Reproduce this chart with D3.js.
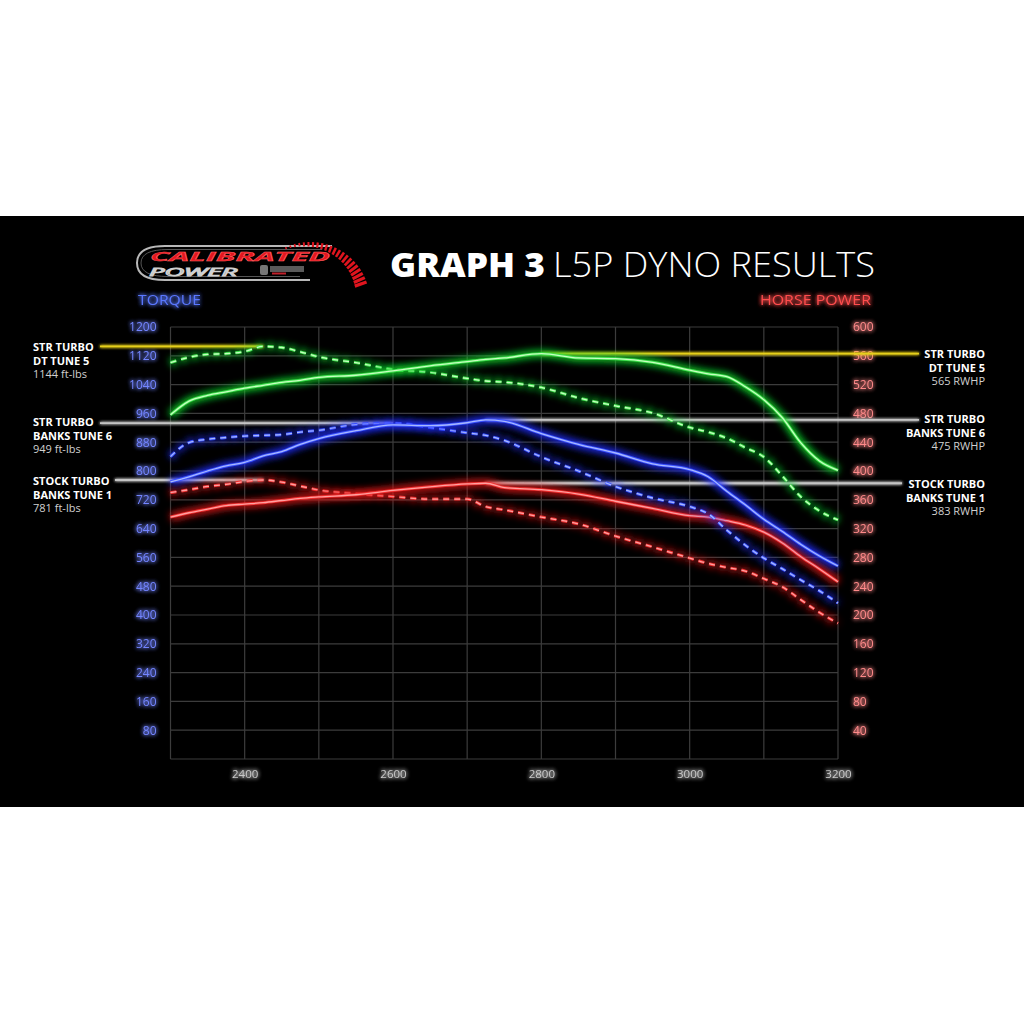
<!DOCTYPE html>
<html><head><meta charset="utf-8">
<script src="https://cdn.jsdelivr.net/npm/d3@7"></script>
<style>
html,body{margin:0;padding:0;background:#fff;}
svg{display:block;}
text{font-family:"Open Sans","Noto Sans",sans-serif;}
</style></head>
<body>
<svg id="chart" width="1024" height="1024"></svg>
<script>
// ---------- DATA ----------
const rpm = [2300,2325,2350,2375,2400,2425,2450,2475,2500,2550,2600,2650,2700,2725,2750,2800,2850,2900,2950,3000,3025,3050,3075,3100,3125,3150,3175,3200];
// STR TURBO DT TUNE 5 (green)
const dtTorque = [1101,1116,1124,1126,1132,1146,1143,1131,1117,1101,1082,1074,1057,1050,1047,1032,1003,981,961,921,908,891,865,839,786,728,689,664];
const dtHp     = [478,497,505,510,515,519,523,526,530,533,539,546,552,555,557,563,557,556,551,540,535,531,517,499,474,439,414,401];
// STR TURBO BANKS TUNE 6 (blue)
const bt6Torque = [840,879,888,893,897,899,901,908,913,929,933,921,906,899,885,839,800,757,725,701,681,636,594,558,528,497,467,433];
const bt6Hp     = [385,392,400,407,412,421,427,437,445,456,464,463,467,471,469,452,437,425,410,402,392,372,353,333,316,298,282,268];
// STOCK TURBO BANKS TUNE 1 (red)
const st1Torque = [740,748,757,763,771,775,769,758,747,737,729,722,722,701,692,672,653,619,589,558,543,532,522,501,478,442,407,377];
const st1Hp     = [336,342,347,352,354,356,359,362,364,367,373,378,382,383,377,374,368,358,348,338,336,331,325,315,300,281,264,246];

const torqueTicks = [80,160,240,320,400,480,560,640,720,800,880,960,1040,1120,1200];
const hpTicks = [40,80,120,160,200,240,280,320,360,400,440,480,520,560,600];
const rpmTicks = [2400,2600,2800,3000,3200];
const rpmGrid = [2300,2400,2500,2600,2700,2800,2900,3000,3100,3200];

const seriesNames = ["STR TURBO|DT TUNE 5","STR TURBO|BANKS TUNE 6","STOCK TURBO|BANKS TUNE 1"];
const torqueLabels = ["1144 ft-lbs","949 ft-lbs","781 ft-lbs"];
const hpLabels = ["565 RWHP","475 RWHP","383 RWHP"];

// ---------- SETUP ----------
const svg = d3.select("#chart");
const defs = svg.append("defs");
function region(f){
  return f.attr("filterUnits","userSpaceOnUse").attr("x",-1500).attr("y",-1500).attr("width",4000).attr("height",4000);
}
function glow(id, sd){
  const f = region(defs.append("filter").attr("id",id));
  f.append("feGaussianBlur").attr("in","SourceGraphic").attr("stdDeviation",sd).attr("result","b");
  const m = f.append("feMerge");
  m.append("feMergeNode").attr("in","b");
  m.append("feMergeNode").attr("in","b");
  m.append("feMergeNode").attr("in","SourceGraphic");
}
glow("tglow",2.2);
glow("lglow",1.6);
region(defs.append("filter").attr("id","blur")).append("feGaussianBlur").attr("stdDeviation",3.5);

svg.append("rect").attr("x",0).attr("y",216).attr("width",1024).attr("height",591).attr("fill","#000");

const x = d3.scaleLinear().domain([2300,3200]).range([170.5,838]);
const yT = d3.scaleLinear().domain([0,1200]).range([759,327]);
const yH = d3.scaleLinear().domain([0,600]).range([759,327]);

// grid
const grid = svg.append("g");
grid.selectAll("line.v").data(rpmGrid).join("line")
  .attr("x1",d=>x(d)).attr("x2",d=>x(d)).attr("y1",yT(1200)).attr("y2",yT(0))
  .attr("stroke","#3c3c3c").attr("stroke-width",1.2);
grid.selectAll("line.h").data([0].concat(torqueTicks)).join("line")
  .attr("x1",x(2300)).attr("x2",x(3200)).attr("y1",d=>yT(d)).attr("y2",d=>yT(d))
  .attr("stroke","#3c3c3c").attr("stroke-width",1.2);

// axes
const gl = svg.append("g").attr("transform",`translate(${x(2300)},0)`)
  .call(d3.axisLeft(yT).tickValues(torqueTicks).tickSize(0).tickPadding(14).tickFormat(d3.format("d")));
gl.select(".domain").remove();
gl.selectAll("text").attr("fill","#7385ff").attr("font-size",12).attr("font-family","Open Sans").attr("filter","url(#tglow)");

const gr = svg.append("g").attr("transform",`translate(${x(3200)},0)`)
  .call(d3.axisRight(yH).tickValues(hpTicks).tickSize(0).tickPadding(15).tickFormat(d3.format("d")));
gr.select(".domain").remove();
gr.selectAll("text").attr("fill","#ff8a8a").attr("font-size",12).attr("font-family","Open Sans").attr("filter","url(#tglow)");

const gb = svg.append("g").attr("transform",`translate(0,${yT(0)})`)
  .call(d3.axisBottom(x).tickValues(rpmTicks).tickSize(0).tickPadding(11).tickFormat(d3.format("d")));
gb.select(".domain").remove();
gb.selectAll("text").attr("fill","#c8c8c8").attr("font-size",11.5).attr("font-family","Open Sans").attr("filter","url(#tglow)");

// axis titles
svg.append("text").attr("x",138).attr("y",305).text("TORQUE")
  .attr("fill","#5a78ff").attr("font-size",15).attr("filter","url(#tglow)")
  .attr("textLength",63).attr("lengthAdjust","spacingAndGlyphs");
svg.append("text").attr("x",760).attr("y",305).text("HORSE POWER")
  .attr("fill","#ff4d4d").attr("font-size",15).attr("filter","url(#tglow)")
  .attr("textLength",111).attr("lengthAdjust","spacingAndGlyphs");

// title
svg.append("text").attr("x",390).attr("y",277).text("GRAPH 3")
  .attr("fill","#fff").attr("font-size",34).attr("font-weight",800)
  .attr("font-family","Open Sans").attr("textLength",155).attr("lengthAdjust","spacingAndGlyphs");
svg.append("text").attr("x",553).attr("y",277).text("L5P DYNO RESULTS")
  .attr("fill","#fff").attr("font-size",34).attr("font-weight",300)
  .attr("font-family","Open Sans").attr("textLength",322).attr("lengthAdjust","spacingAndGlyphs");

// logo
const logo = svg.append("g");
logo.append("path").attr("d","M 332 246 L 165 246 Q 137 246 137 263 Q 137 280 165 280 L 310 280")
  .attr("fill","none").attr("stroke","#b8b8b8").attr("stroke-width",2);
logo.append("path").attr("d","M 322 249.5 L 168 249.5 Q 141 249.5 141 263 Q 141 276.5 168 276.5 L 300 276.5")
  .attr("fill","none").attr("stroke","#555").attr("stroke-width",1);
const arcCx = 310, arcCy = 302, arcR = 60;
const tickAngles = d3.range(0,22).map(i=>-114 + i*4.5);
logo.selectAll("line.tk").data(tickAngles).join("line")
  .attr("x1",(a)=>arcCx + arcR*Math.cos(a*Math.PI/180))
  .attr("y1",(a)=>arcCy + arcR*Math.sin(a*Math.PI/180))
  .attr("x2",(a,i)=>arcCx + (arcR-2-i*0.5)*Math.cos(a*Math.PI/180))
  .attr("y2",(a,i)=>arcCy + (arcR-2-i*0.5)*Math.sin(a*Math.PI/180))
  .attr("stroke","#e0141e").attr("stroke-width",(a,i)=>1.6+i*0.08);
logo.append("text").attr("x",150).attr("y",261).text("CALIBRATED")
  .attr("fill","#e3161f").attr("stroke","#ff6060").attr("stroke-width",0.4)
  .attr("font-size",12.5).attr("font-style","italic").attr("font-weight",700).attr("font-family","DejaVu Sans")
  .attr("textLength",180).attr("lengthAdjust","spacingAndGlyphs");
logo.append("text").attr("x",149).attr("y",275.5).text("POWER")
  .attr("fill","none").attr("stroke","#d0d0d0").attr("stroke-width",0.9)
  .attr("font-size",11.5).attr("font-style","italic").attr("font-family","DejaVu Sans")
  .attr("textLength",88).attr("lengthAdjust","spacingAndGlyphs");
logo.append("rect").attr("x",260).attr("y",265).attr("width",8).attr("height",10).attr("fill","#777").attr("rx",2);
logo.append("rect").attr("x",270).attr("y",266).attr("width",34).attr("height",6).attr("fill","#5a5a5a");
logo.append("rect").attr("x",272).attr("y",272.5).attr("width",14).attr("height",2).attr("fill","#c0202a");

// reference lines
function peakIdx(arr){ return arr.indexOf(d3.max(arr)); }
const refColors = ["#e6cf1e","#c4c4c4","#c4c4c4"];
const torqueSeries = [dtTorque,bt6Torque,st1Torque];
const hpSeries = [dtHp,bt6Hp,st1Hp];
const leftStart = [100,100,115];
const rightEnd = [919,919,902];
const refs = svg.append("g");
torqueSeries.forEach((s,i)=>{
  const k = peakIdx(s);
  refs.append("line").attr("x1",leftStart[i]).attr("x2",x(rpm[k])).attr("y1",yT(s[k])).attr("y2",yT(s[k]))
    .attr("stroke",refColors[i]).attr("stroke-width",1.8).attr("filter","url(#lglow)");
});
hpSeries.forEach((s,i)=>{
  const k = peakIdx(s);
  refs.append("line").attr("x1",x(rpm[k])).attr("x2",rightEnd[i]).attr("y1",yH(s[k])).attr("y2",yH(s[k]))
    .attr("stroke",refColors[i]).attr("stroke-width",1.8).attr("filter","url(#lglow)");
});

// annotation texts
const leftY = [351,426,485];
const rightY = [358,423,488];
torqueSeries.forEach((s,i)=>{
  const [a,b] = seriesNames[i].split("|");
  const g = svg.append("g");
  g.append("text").attr("x",33).attr("y",leftY[i]).text(a).attr("fill","#fff").attr("font-weight",700).attr("font-size",11);
  g.append("text").attr("x",33).attr("y",leftY[i]+13.5).text(b).attr("fill","#fff").attr("font-weight",700).attr("font-size",11);
  g.append("text").attr("x",33).attr("y",leftY[i]+26.5).text(torqueLabels[i]).attr("fill","#d0d0d0").attr("font-size",11);
});
hpSeries.forEach((s,i)=>{
  const [a,b] = seriesNames[i].split("|");
  const g = svg.append("g").attr("text-anchor","end");
  g.append("text").attr("x",985).attr("y",rightY[i]).text(a).attr("fill","#fff").attr("font-weight",700).attr("font-size",11);
  g.append("text").attr("x",985).attr("y",rightY[i]+13.5).text(b).attr("fill","#fff").attr("font-weight",700).attr("font-size",11);
  g.append("text").attr("x",985).attr("y",rightY[i]+26.5).text(hpLabels[i]).attr("fill","#d0d0d0").attr("font-size",11);
});

// curves
const palette = [
  {glow:"#12d12a", mid:"#3ee04e", core:"#c8ffc0"},
  {glow:"#1f2dff", mid:"#3a52ff", core:"#a8b8ff"},
  {glow:"#e01818", mid:"#f03030", core:"#ffa0a0"}
];
const lineT = d3.line().x((d,i)=>x(rpm[i])).y(d=>yT(d)).curve(d3.curveMonotoneX);
const lineH = d3.line().x((d,i)=>x(rpm[i])).y(d=>yH(d)).curve(d3.curveMonotoneX);
const curves = svg.append("g");
function drawCurve(data, gen, col, dashed){
  const dash = dashed ? "6,5" : null;
  curves.append("path").attr("d",gen(data)).attr("fill","none").attr("stroke",col.glow)
    .attr("stroke-width",8).attr("stroke-opacity",0.9).attr("filter","url(#blur)").attr("stroke-dasharray",dash);
  curves.append("path").attr("d",gen(data)).attr("fill","none").attr("stroke",col.mid)
    .attr("stroke-width",3).attr("stroke-dasharray",dash);
  curves.append("path").attr("d",gen(data)).attr("fill","none").attr("stroke",col.core)
    .attr("stroke-width",1.3).attr("stroke-dasharray",dash);
}
[2,1,0].forEach(i=>{
  drawCurve(torqueSeries[i], lineT, palette[i], true);
  drawCurve(hpSeries[i], lineH, palette[i], false);
});
</script>
</body></html>
